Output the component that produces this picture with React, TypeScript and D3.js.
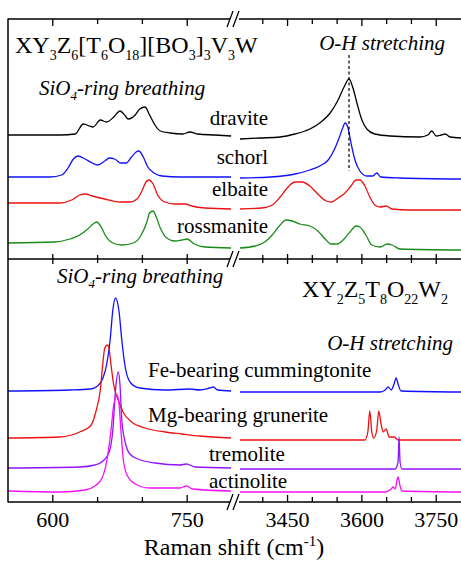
import React from "react";
import * as d3 from "d3";

const W = 461;
const H = 562;

const leftDomain: [number, number] = [550, 800];
const rightDomain: [number, number] = [3350, 3800];
const leftTicks = [600, 650, 700, 750];
const rightTicks = [3400, 3450, 3500, 3550, 3600, 3650, 3700, 3750];
const leftLabels = [600, 750];
const rightLabels = [3450, 3600, 3750];

// [Raman shift (cm-1), intensity (a.u., stacked offset)]
const draviteLow = [[550,124],[608,124],[625,125],[634,135],[645,132],[653,139],[660,137],[668,142],[675,148],[681,143],[684,140],[692,144],[697,150],[703,152],[708,144],[714,134],[720,128],[731,126],[745,125],[753,127],[762,125],[781,124],[799,123]];
const draviteHigh = [[3354,120],[3394,121],[3435,122],[3465,125],[3495,130],[3515,136],[3536,146],[3552,159],[3564,172],[3574,180],[3582,171],[3590,156],[3600,139],[3610,130],[3626,125],[3657,123],[3717,122],[3733,124],[3741,128],[3750,123],[3760,124],[3768,125],[3778,122],[3800,121]];
const schorlLow = [[550,82],[597,82],[610,84],[617,91],[623,100],[628,103],[636,100],[644,96],[650,94],[658,98],[663,101],[669,100],[676,96],[682,96],[687,101],[693,107],[696,108],[701,102],[706,92],[713,86],[722,83],[742,82],[799,82]];
const schorlHigh = [[3354,81],[3415,82],[3465,85],[3495,89],[3515,93],[3532,99],[3544,109],[3554,121],[3562,132],[3566,136],[3572,131],[3578,116],[3586,99],[3596,88],[3610,83],[3622,83],[3630,86],[3638,82],[3677,81],[3800,80]];
const elbaiteLow = [[550,56],[608,56],[621,59],[630,64],[636,65],[644,63],[658,60],[675,57],[686,57],[694,60],[700,69],[704,77],[707,79],[712,75],[717,64],[725,57],[736,55],[748,55],[755,53],[770,51],[799,50]];
const elbaiteHigh = [[3354,50],[3398,51],[3419,54],[3435,62],[3451,72],[3465,77],[3479,77],[3495,73],[3511,65],[3528,58],[3538,57],[3552,61],[3566,66],[3578,73],[3588,79],[3596,79],[3606,73],[3616,62],[3626,54],[3637,52],[3649,53],[3661,50],[3697,49],[3800,49]];
const rossmaniteLow = [[550,16],[602,17],[619,20],[630,24],[639,30],[645,35],[649,37],[654,32],[659,23],[667,16],[677,14],[690,16],[698,23],[705,37],[708,46],[712,48],[715,43],[720,31],[726,22],[736,18],[744,19],[750,20],[758,15],[770,12],[799,11]];
const rossmaniteHigh = [[3354,11],[3384,13],[3404,17],[3419,24],[3435,34],[3447,39],[3459,38],[3475,35],[3495,33],[3511,28],[3526,20],[3538,15],[3550,15],[3562,19],[3576,27],[3588,33],[3596,32],[3608,24],[3620,14],[3637,12],[3651,15],[3661,14],[3677,10],[3800,9]];

const cummingtoniteLow = [[550,111],[619,112],[642,113],[650,116],[656,124],[660,137],[664,162],[667,192],[670,204],[674,190],[677,162],[681,134],[687,119],[697,114],[725,112],[753,113],[764,112],[775,114],[779,115],[784,112],[799,111]];
const cummingtoniteHigh = [[3354,110],[3637,110],[3647,112],[3653,115],[3659,112],[3665,118],[3669,124],[3673,118],[3679,111],[3800,110]];
const gruneriteLow = [[550,64],[608,65],[630,70],[642,76],[648,90],[653,112],[656,140],[658,154],[661,157],[663,152],[665,137],[668,117],[673,102],[679,89],[688,80],[703,74],[725,70],[744,68],[764,66],[799,64]];
const gruneriteHigh = [[3354,62],[3606,62],[3612,70],[3616,91],[3620,70],[3624,64],[3630,72],[3634,91],[3639,77],[3643,70],[3649,73],[3655,65],[3665,65],[3673,62],[3800,62]];
const tremoliteLow = [[550,34],[630,35],[647,37],[656,41],[663,50],[667,72],[670,112],[673,130],[675,117],[677,82],[681,59],[686,48],[695,43],[714,39],[742,37],[749,38],[759,35],[799,34]];
const tremoliteHigh = [[3354,33],[3667,33],[3673,40],[3675,65],[3677,40],[3681,33],[3800,33]];
const actinoliteLow = [[550,11],[608,10],[636,12],[647,16],[655,24],[660,40],[665,72],[668,97],[672,107],[674,97],[676,72],[679,40],[684,25],[692,18],[708,14],[742,14],[749,16],[756,13],[799,11]];
const actinoliteHigh = [[3354,10],[3647,10],[3659,13],[3663,15],[3667,13],[3671,22],[3673,25],[3677,16],[3681,11],[3800,10]];

const topSpectra = [
  { name: "dravite", color: "#000000", low: draviteLow, high: draviteHigh },
  { name: "schorl", color: "#1010ff", low: schorlLow, high: schorlHigh },
  { name: "elbaite", color: "#ee1111", low: elbaiteLow, high: elbaiteHigh },
  { name: "rossmanite", color: "#1a8a1a", low: rossmaniteLow, high: rossmaniteHigh },
];
const bottomSpectra = [
  { name: "Fe-bearing cummingtonite", color: "#1010ff", low: cummingtoniteLow, high: cummingtoniteHigh },
  { name: "Mg-bearing grunerite", color: "#ee1111", low: gruneriteLow, high: gruneriteHigh },
  { name: "tremolite", color: "#8f14ff", low: tremoliteLow, high: tremoliteHigh },
  { name: "actinolite", color: "#f510f5", low: actinoliteLow, high: actinoliteHigh },
];

const FONT = "'Liberation Serif', 'Times New Roman', serif";

const xL = d3.scaleLinear().domain(leftDomain).range([8, 232]);
const xR = d3.scaleLinear().domain(rightDomain).range([238, 461]);
const yTop = d3.scaleLinear().domain([0, 240]).range([259, 19]);
const yBot = d3.scaleLinear().domain([0, 243]).range([502, 259]);

type Part = [string, boolean];

function Formula({ x, y, parts, size, subSize, shift }: { x: number; y: number; parts: Part[]; size: number; subSize: number; shift: number }) {
  let cur = 0;
  return (
    <text x={x} y={y} fontFamily={FONT} fontSize={size} fill="#000">
      {parts.map(([t, sub], i) => {
        const target = sub ? shift : 0;
        const dy = target - cur;
        cur = target;
        return (
          <tspan key={i} dy={dy} fontSize={sub ? subSize : size}>
            {t}
          </tspan>
        );
      })}
    </text>
  );
}

export default function App() {
  const lineL = (y: d3.ScaleLinear<number, number>) =>
    d3.line<number[]>().x((d) => xL(d[0])).y((d) => y(d[1])).curve(d3.curveMonotoneX);
  const lineR = (y: d3.ScaleLinear<number, number>) =>
    d3.line<number[]>().x((d) => xR(d[0])).y((d) => y(d[1])).curve(d3.curveMonotoneX);

  const axisYs = [19, 259, 502];
  const tickMarks: JSX.Element[] = [];
  axisYs.forEach((ay, ai) => {
    const all = [
      ...leftTicks.map((t) => ({ x: xL(t), major: leftLabels.includes(t) })),
      ...rightTicks.map((t) => ({ x: xR(t), major: rightLabels.includes(t) })),
    ];
    all.forEach((t, i) => {
      const len = t.major ? 7 : 5;
      let y1 = ay, y2 = ay;
      if (ai === 0) { y2 = ay + len; }
      else if (ai === 2) { y2 = ay - len; }
      else { y1 = ay - (t.major ? 5 : 4); y2 = ay + (t.major ? 5 : 4); }
      tickMarks.push(<line key={`t${ai}-${i}`} x1={t.x} x2={t.x} y1={y1} y2={y2} stroke="#000" strokeWidth={1.3} />);
    });
  });

  const breakMarks = axisYs.map((ay, i) => (
    <g key={`b${i}`}>
      <rect x={230} y={ay - 2} width={9} height={4} fill="#fff" />
      <line x1={227} y1={ay + 8} x2={233} y2={ay - 8} stroke="#000" strokeWidth={1.3} />
      <line x1={233} y1={ay + 8} x2={239} y2={ay - 8} stroke="#000" strokeWidth={1.3} />
    </g>
  ));

  return (
    <svg width={W} height={H} style={{ position: "absolute", left: 0, top: 0, background: "#fff" }}>
      <rect x={0} y={0} width={W} height={H} fill="#fff" />
      {/* spectra */}
      {topSpectra.map((s) => (
        <g key={s.name} fill="none" stroke={s.color} strokeWidth={1.3}>
          <path d={lineL(yTop)(s.low) || ""} />
          <path d={lineR(yTop)(s.high) || ""} />
        </g>
      ))}
      {bottomSpectra.map((s) => (
        <g key={s.name} fill="none" stroke={s.color} strokeWidth={1.3}>
          <path d={lineL(yBot)(s.low) || ""} />
          <path d={lineR(yBot)(s.high) || ""} />
        </g>
      ))}
      {/* dashed marker */}
      <line x1={349} x2={349} y1={55} y2={171} stroke="#000" strokeWidth={1.2} strokeDasharray="3,2.5" />

      {/* frame */}
      <line x1={8} x2={8} y1={18.5} y2={502.5} stroke="#000" strokeWidth={1.5} />
      {axisYs.map((ay) => (
        <line key={`ax${ay}`} x1={8} x2={461} y1={ay} y2={ay} stroke="#000" strokeWidth={1.5} />
      ))}
      {tickMarks}
      {breakMarks}

      {/* tick labels */}
      {leftLabels.map((t) => (
        <text key={`l${t}`} x={xL(t)} y={527} textAnchor="middle" fontFamily={FONT} fontSize={22}>{t}</text>
      ))}
      {rightLabels.map((t) => (
        <text key={`r${t}`} x={xR(t)} y={527} textAnchor="middle" fontFamily={FONT} fontSize={22}>{t}</text>
      ))}
      <text x={234} y={555} textAnchor="middle" fontFamily={FONT} fontSize={24}>
        Raman shift (cm<tspan dy={-9} fontSize={15}>-1</tspan><tspan dy={9}>)</tspan>
      </text>

      {/* top panel annotations */}
      <Formula x={15} y={53} size={24} subSize={14} shift={7}
        parts={[["XY", false], ["3", true], ["Z", false], ["6", true], ["[T", false], ["6", true], ["O", false], ["18", true], ["][BO", false], ["3", true], ["]", false], ["3", true], ["V", false], ["3", true], ["W", false]]} />
      <text x={39} y={95} fontFamily={FONT} fontSize={21} fontStyle="italic">
        SiO<tspan dy={5} fontSize={13}>4</tspan><tspan dy={-5}>-ring breathing</tspan>
      </text>
      <text x={445} y={50} textAnchor="end" fontFamily={FONT} fontSize={21} fontStyle="italic">O-H stretching</text>
      <text x={268} y={125} textAnchor="end" fontFamily={FONT} fontSize={21}>dravite</text>
      <text x={268} y={164} textAnchor="end" fontFamily={FONT} fontSize={21}>schorl</text>
      <text x={268} y={196} textAnchor="end" fontFamily={FONT} fontSize={21}>elbaite</text>
      <text x={268} y={233} textAnchor="end" fontFamily={FONT} fontSize={21}>rossmanite</text>

      {/* bottom panel annotations */}
      <text x={57} y={283} fontFamily={FONT} fontSize={21} fontStyle="italic">
        SiO<tspan dy={5} fontSize={13}>4</tspan><tspan dy={-5}>-ring breathing</tspan>
      </text>
      <Formula x={302} y={297} size={24} subSize={14} shift={7}
        parts={[["XY", false], ["2", true], ["Z", false], ["5", true], ["T", false], ["8", true], ["O", false], ["22", true], ["W", false], ["2", true]]} />
      <text x={453} y={350} textAnchor="end" fontFamily={FONT} fontSize={21} fontStyle="italic">O-H stretching</text>
      <text x={148} y={377} fontFamily={FONT} fontSize={21}>Fe-bearing cummingtonite</text>
      <text x={148} y={422} fontFamily={FONT} fontSize={21}>Mg-bearing grunerite</text>
      <text x={209} y={461} fontFamily={FONT} fontSize={21}>tremolite</text>
      <text x={209} y={488} fontFamily={FONT} fontSize={21}>actinolite</text>
    </svg>
  );
}
